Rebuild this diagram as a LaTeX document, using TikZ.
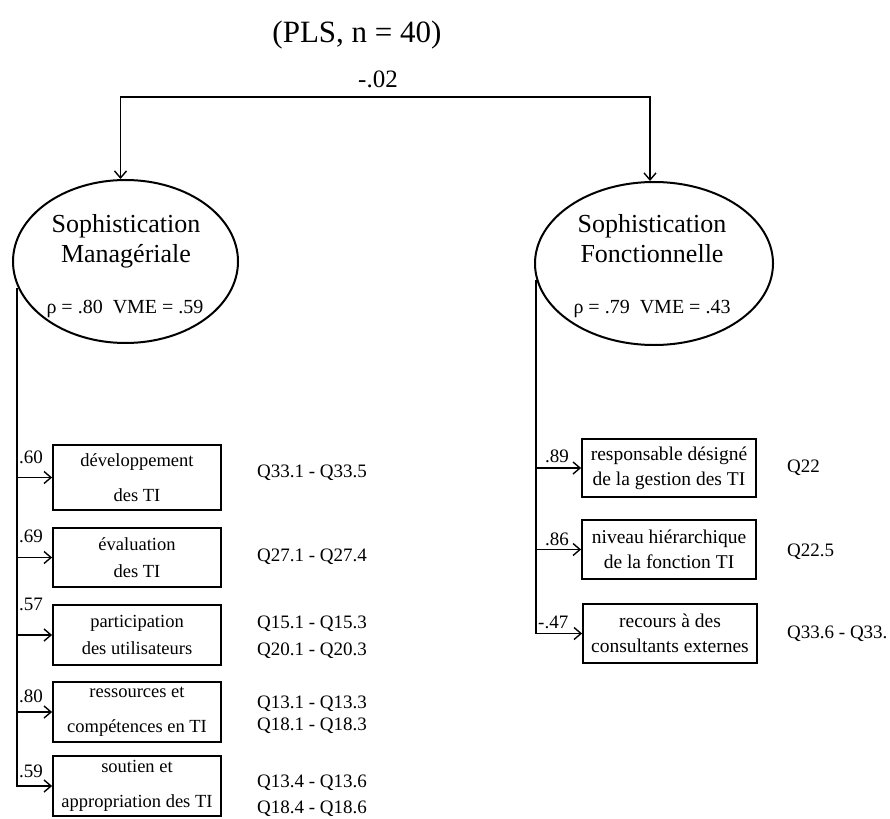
\documentclass[tikz,border=0pt]{standalone}
\usepackage{fontspec}
\setmainfont{Liberation Serif}
\usetikzlibrary{shapes.geometric,arrows.meta}
\begin{document}
\begin{tikzpicture}[x=1pt,y=-1pt,
  ln/.style={line width=1.6pt},
  tip/.tip={Straight Barb[length=7pt,width=12pt,line width=1.4pt]},
  arr/.style={ln,-tip},
  latent/.style={ellipse,draw,line width=2pt,inner sep=0pt},
  ind/.style={draw,line width=1.8pt,rectangle,inner sep=0pt,align=center},
  lbox/.style={ind,minimum width=168pt,minimum height=60pt,font=\fontsize{18.5}{27}\selectfont},
  rbox/.style={ind,minimum width=174pt,minimum height=59pt,font=\fontsize{19.5}{25}\selectfont},
  coef/.style={anchor=base west,inner sep=0pt,font=\fontsize{19}{19}\selectfont},
  qtxt/.style={anchor=base west,inner sep=0pt,font=\fontsize{19}{19}\selectfont},
  ltxt/.style={anchor=base,inner sep=0pt,font=\fontsize{26}{26}\selectfont},
  stxt/.style={anchor=base,inner sep=0pt,font=\fontsize{20}{20}\selectfont}]
\useasboundingbox (0,0) rectangle (890,818);
\fill[white] (0,0) rectangle (890,818);

% title and correlation
\node[font=\fontsize{31}{31}\selectfont,anchor=base,inner sep=0pt] (title) at (357,43) {(PLS, n = 40)};
\node[font=\fontsize{25}{25}\selectfont,anchor=base,inner sep=0pt] (corr) at (378,88) {-.02};

% latent variables
\node[latent,minimum width=225pt,minimum height=163pt] (SM) at (125.5,261.5) {};
\node[latent,minimum width=238pt,minimum height=163pt] (SF) at (654,263.5) {};
\node[ltxt] (SMa) at (126,233) {Sophistication};
\node[ltxt] (SMb) at (126,262) {Managériale};
\node[stxt] (SMc) at (125,313) {ρ = .80\enspace VME = .59};
\node[ltxt] (SFa) at (652,233) {Sophistication};
\node[ltxt] (SFb) at (652,262) {Fonctionnelle};
\node[stxt] (SFc) at (652,313) {ρ = .79\enspace VME = .43};

% correlation connector
\coordinate (bar) at (385,97);
\coordinate (tl) at ([xshift=-5pt]SM.north);
\coordinate (tr) at ([xshift=-4pt]SF.north);
\draw[ln,tip-tip] (tl) |- (bar) -| (tr);

% left indicators
\node[lbox,minimum height=65pt] (L1) at (137,477.5) {développement\\[8pt]des TI};
\node[lbox,minimum height=59pt] (L2) at (137,557.5) {évaluation\\des TI};
\node[lbox] (L3) at (137,635) {participation\\des utilisateurs};
\node[lbox] (L4) at (137,712) {ressources et\\[8pt]compétences en TI};
\node[lbox] (L5) at (137,786) {soutien et\\[8pt]appropriation des TI};

\coordinate (Ltop) at (17,288);
\draw[arr] (Ltop) |- (L5.west);
\foreach \b in {L1,L2,L3,L4}{\draw[arr] (Ltop |- \b.west) -- (\b.west);}

\node[coef] (c1) at (19,463) {.60};
\node[coef] (c2) at (19,542) {.69};
\node[coef] (c3) at (19,610) {.57};
\node[coef] (c4) at (19,702) {.80};
\node[coef] (c5) at (19,777) {.59};

\node[qtxt] (q1) at (257,477) {Q33.1 - Q33.5};
\node[qtxt] (q2) at (257,561) {Q27.1 - Q27.4};
\node[qtxt] (q3) at (257,628) {Q15.1 - Q15.3};
\node[qtxt] (q3b) at (257,655) {Q20.1 - Q20.3};
\node[qtxt] (q4) at (257,708) {Q13.1 - Q13.3};
\node[qtxt] (q4b) at (257,730) {Q18.1 - Q18.3};
\node[qtxt] (q5) at (257,787) {Q13.4 - Q13.6};
\node[qtxt] (q5b) at (257,813) {Q18.4 - Q18.6};

% right indicators
\node[rbox,minimum height=58pt] (R1) at (669,468) {responsable désigné\\de la gestion des TI};
\node[rbox] (R2) at (669,549.5) {niveau hiérarchique\\de la fonction TI};
\node[rbox] (R3) at (670,633.5) {recours à des\\consultants externes};

\coordinate (Rtop) at (536,280);
\draw[arr] (Rtop) |- (R3.west);
\foreach \b in {R1,R2}{\draw[arr] (Rtop |- \b.west) -- (\b.west);}

\node[coef] (d1) at (545,462) {.89};
\node[coef] (d2) at (545,545) {.86};
\node[coef] (d3) at (538,628) {-.47};

\node[qtxt] (p1) at (787,472) {Q22};
\node[qtxt] (p2) at (787,556) {Q22.5};
\node[qtxt] (p3) at (787,638) {Q33.6 - Q33.};
\end{tikzpicture}
\end{document}
